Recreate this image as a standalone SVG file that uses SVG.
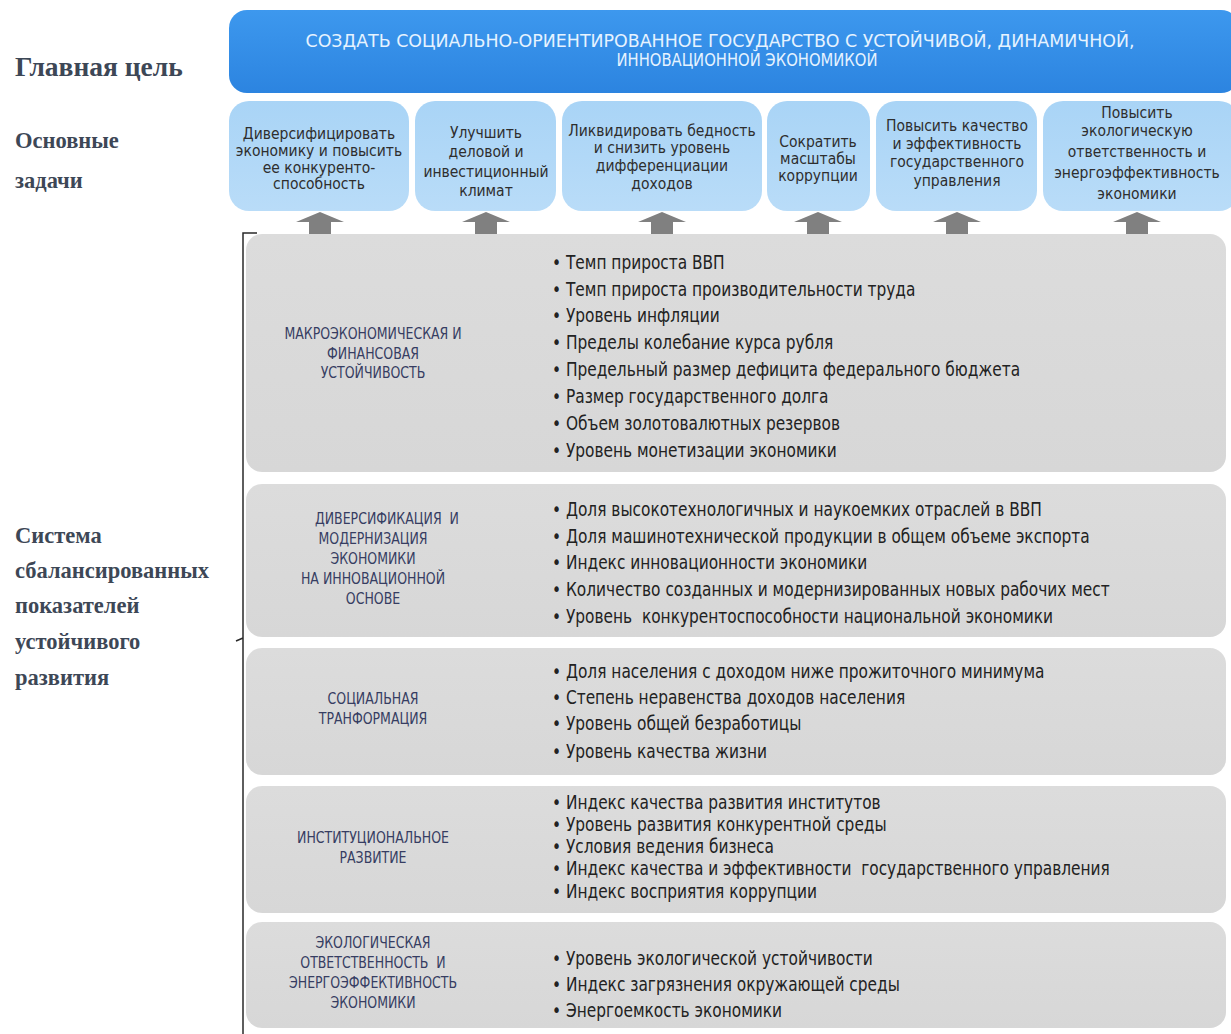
<svg xmlns="http://www.w3.org/2000/svg" width="1231" height="1034" viewBox="0 0 1231 1034">
<defs>
<linearGradient id="gBlue" x1="0" y1="0" x2="0" y2="1"><stop offset="0" stop-color="#3d98ee"/><stop offset="1" stop-color="#2c84e0"/></linearGradient>
<linearGradient id="gTask" x1="0" y1="0" x2="0" y2="1"><stop offset="0" stop-color="#a9d4f6"/><stop offset="1" stop-color="#b9dcf8"/></linearGradient>
<linearGradient id="gGray" x1="0" y1="0" x2="0" y2="1"><stop offset="0" stop-color="#dcdcdc"/><stop offset="1" stop-color="#d7d7d7"/></linearGradient>
</defs>
<style>
.side{font-family:"Liberation Serif","DejaVu Serif",serif;font-weight:bold;fill:#3d4756}
.hdr{font-family:"DejaVu Sans Condensed","Liberation Sans",sans-serif;font-size:18px;fill:#e6f3ff;text-anchor:middle}
.task{font-family:"DejaVu Sans Condensed","Liberation Sans",sans-serif;font-size:15.5px;fill:#2e2e2e;text-anchor:middle}
.head{font-family:"DejaVu Sans Condensed","Liberation Sans",sans-serif;font-size:16px;fill:#363d62;text-anchor:middle}
.item{font-family:"DejaVu Sans Condensed","Liberation Sans",sans-serif;font-size:19px;fill:#222222}
.box{fill:url(#gGray)}
.tbox{fill:url(#gTask)}
.arr{fill:#808080}
</style>
<rect width="1231" height="1034" fill="#ffffff"/>

<g id="labels">
<text class="side" x="15" y="76" font-size="27.5">Главная цель</text>
<text class="side" x="15" y="148" font-size="22.5">Основные</text>
<text class="side" x="15" y="188" font-size="22.5">задачи</text>
<text class="side" x="15" y="543" font-size="22.5">Система</text>
<text class="side" x="15" y="578" font-size="22.5">сбалансированных</text>
<text class="side" x="15" y="613" font-size="22.5">показателей</text>
<text class="side" x="15" y="649" font-size="22.5">устойчивого</text>
<text class="side" x="15" y="685" font-size="22.5">развития</text>
</g>

<g id="goal">
<rect x="229" y="10" width="1010" height="83" rx="18" fill="url(#gBlue)"/>
<text class="hdr" x="720" y="46.5" textLength="829" lengthAdjust="spacingAndGlyphs">СОЗДАТЬ СОЦИАЛЬНО-ОРИЕНТИРОВАННОЕ  ГОСУДАРСТВО С УСТОЙЧИВОЙ,  ДИНАМИЧНОЙ,</text>
<text class="hdr" x="747" y="65.5" textLength="261" lengthAdjust="spacingAndGlyphs">ИННОВАЦИОННОЙ  ЭКОНОМИКОЙ</text>
</g>

<g id="task1"><rect class="tbox" x="229" y="101" width="180" height="110" rx="20"/>
<text class="task" x="319" y="139">Диверсифицировать</text><text class="task" x="319" y="156">экономику и повысить</text><text class="task" x="319" y="173">ее конкуренто-</text><text class="task" x="319" y="189">способность</text></g>
<g id="task2"><rect class="tbox" x="415" y="101" width="141" height="110" rx="20"/>
<text class="task" x="486" y="138">Улучшить</text><text class="task" x="486" y="157">деловой и</text><text class="task" x="486" y="177">инвестиционный</text><text class="task" x="486" y="196">климат</text></g>
<g id="task3"><rect class="tbox" x="562" y="101" width="200" height="110" rx="20"/>
<text class="task" x="662" y="136">Ликвидировать бедность</text><text class="task" x="662" y="153">и снизить уровень</text><text class="task" x="662" y="171">дифференциации</text><text class="task" x="662" y="189">доходов</text></g>
<g id="task4"><rect class="tbox" x="767" y="101" width="103" height="110" rx="20"/>
<text class="task" x="818" y="147">Сократить</text><text class="task" x="818" y="164">масштабы</text><text class="task" x="818" y="181">коррупции</text></g>
<g id="task5"><rect class="tbox" x="876" y="101" width="161" height="110" rx="20"/>
<text class="task" x="957" y="131">Повысить качество</text><text class="task" x="957" y="149">и эффективность</text><text class="task" x="957" y="167">государственного</text><text class="task" x="957" y="186">управления</text></g>
<g id="task6"><rect class="tbox" x="1043" y="101" width="196" height="110" rx="20"/>
<text class="task" x="1137" y="118">Повысить</text><text class="task" x="1137" y="136">экологическую</text><text class="task" x="1137" y="157">ответственность и</text><text class="task" x="1137" y="178">энергоэффективность</text><text class="task" x="1137" y="199">экономики</text></g>

<g id="connectors">
<path class="arr" d="M296 222 L320 212 L344 222 L331 222 L331 234 L309 234 L309 222 Z"/>
<path class="arr" d="M462 222 L486 212 L510 222 L497 222 L497 234 L475 234 L475 222 Z"/>
<path class="arr" d="M638 222 L662 212 L686 222 L673 222 L673 234 L651 234 L651 222 Z"/>
<path class="arr" d="M794 222 L818 212 L842 222 L829 222 L829 234 L807 234 L807 222 Z"/>
<path class="arr" d="M933 222 L957 212 L981 222 L968 222 L968 234 L946 234 L946 222 Z"/>
<path class="arr" d="M1113 222 L1137 212 L1161 222 L1148 222 L1148 234 L1126 234 L1126 222 Z"/>
<path d="M257 233 L243 233 L243 1034 M243 638 L236 641" fill="none" stroke="#2a2a2a" stroke-width="1.5"/>
</g>

<g id="macro"><rect class="box" x="246" y="234" width="980" height="238" rx="16"/>
<g transform="translate(373 0) scale(0.87 1)"><text class="head" x="0" y="339">МАКРОЭКОНОМИЧЕСКАЯ И</text><text class="head" x="0" y="359">ФИНАНСОВАЯ</text><text class="head" x="0" y="378">УСТОЙЧИВОСТЬ</text></g>
<g class="item" transform="translate(552 0) scale(0.9 1)"><text x="0" y="269">• Темп прироста ВВП</text><text x="0" y="296">• Темп прироста производительности труда</text><text x="0" y="322">• Уровень инфляции</text><text x="0" y="349">• Пределы колебание курса рубля</text><text x="0" y="376">• Предельный размер дефицита федерального бюджета</text><text x="0" y="403">• Размер государственного долга</text><text x="0" y="430">• Объем золотовалютных резервов</text><text x="0" y="457">• Уровень монетизации экономики</text></g></g>

<g id="divers"><rect class="box" x="246" y="484" width="980" height="153" rx="16"/>
<g transform="translate(373 0) scale(0.87 1)"><text class="head" x="16" y="524" xml:space="preserve">ДИВЕРСИФИКАЦИЯ  И</text><text class="head" x="0" y="544">МОДЕРНИЗАЦИЯ</text><text class="head" x="0" y="564">ЭКОНОМИКИ</text><text class="head" x="0" y="584">НА ИННОВАЦИОННОЙ</text><text class="head" x="0" y="604">ОСНОВЕ</text></g>
<g class="item" transform="translate(552 0) scale(0.9 1)"><text x="0" y="516">• Доля высокотехнологичных и наукоемких отраслей в ВВП</text><text x="0" y="543">• Доля машинотехнической продукции в общем объеме экспорта</text><text x="0" y="569">• Индекс инновационности экономики</text><text x="0" y="596">• Количество созданных и модернизированных новых рабочих мест</text><text x="0" y="623" xml:space="preserve">• Уровень  конкурентоспособности национальной экономики</text></g></g>

<g id="social"><rect class="box" x="246" y="648" width="980" height="127" rx="16"/>
<g transform="translate(373 0) scale(0.87 1)"><text class="head" x="0" y="704">СОЦИАЛЬНАЯ</text><text class="head" x="0" y="724">ТРАНФОРМАЦИЯ</text></g>
<g class="item" transform="translate(552 0) scale(0.9 1)"><text x="0" y="678">• Доля населения с доходом ниже прожиточного минимума</text><text x="0" y="704">• Степень неравенства доходов населения</text><text x="0" y="730">• Уровень общей безработицы</text><text x="0" y="758">• Уровень качества жизни</text></g></g>

<g id="inst"><rect class="box" x="246" y="786" width="980" height="127" rx="16"/>
<g transform="translate(373 0) scale(0.87 1)"><text class="head" x="0" y="843">ИНСТИТУЦИОНАЛЬНОЕ</text><text class="head" x="0" y="863">РАЗВИТИЕ</text></g>
<g class="item" transform="translate(552 0) scale(0.9 1)"><text x="0" y="809">• Индекс качества развития институтов</text><text x="0" y="831">• Уровень развития конкурентной среды</text><text x="0" y="853">• Условия ведения бизнеса</text><text x="0" y="875" xml:space="preserve">• Индекс качества и эффективности  государственного управления</text><text x="0" y="898">• Индекс восприятия коррупции</text></g></g>

<g id="eco"><rect class="box" x="246" y="922" width="980" height="106" rx="16"/>
<g transform="translate(373 0) scale(0.87 1)"><text class="head" x="0" y="948">ЭКОЛОГИЧЕСКАЯ</text><text class="head" x="0" y="968" xml:space="preserve">ОТВЕТСТВЕННОСТЬ  И</text><text class="head" x="0" y="988">ЭНЕРГОЭФФЕКТИВНОСТЬ</text><text class="head" x="0" y="1008">ЭКОНОМИКИ</text></g>
<g class="item" transform="translate(552 0) scale(0.9 1)"><text x="0" y="965">• Уровень экологической устойчивости</text><text x="0" y="991">• Индекс загрязнения окружающей среды</text><text x="0" y="1017">• Энергоемкость экономики</text></g></g>
</svg>
